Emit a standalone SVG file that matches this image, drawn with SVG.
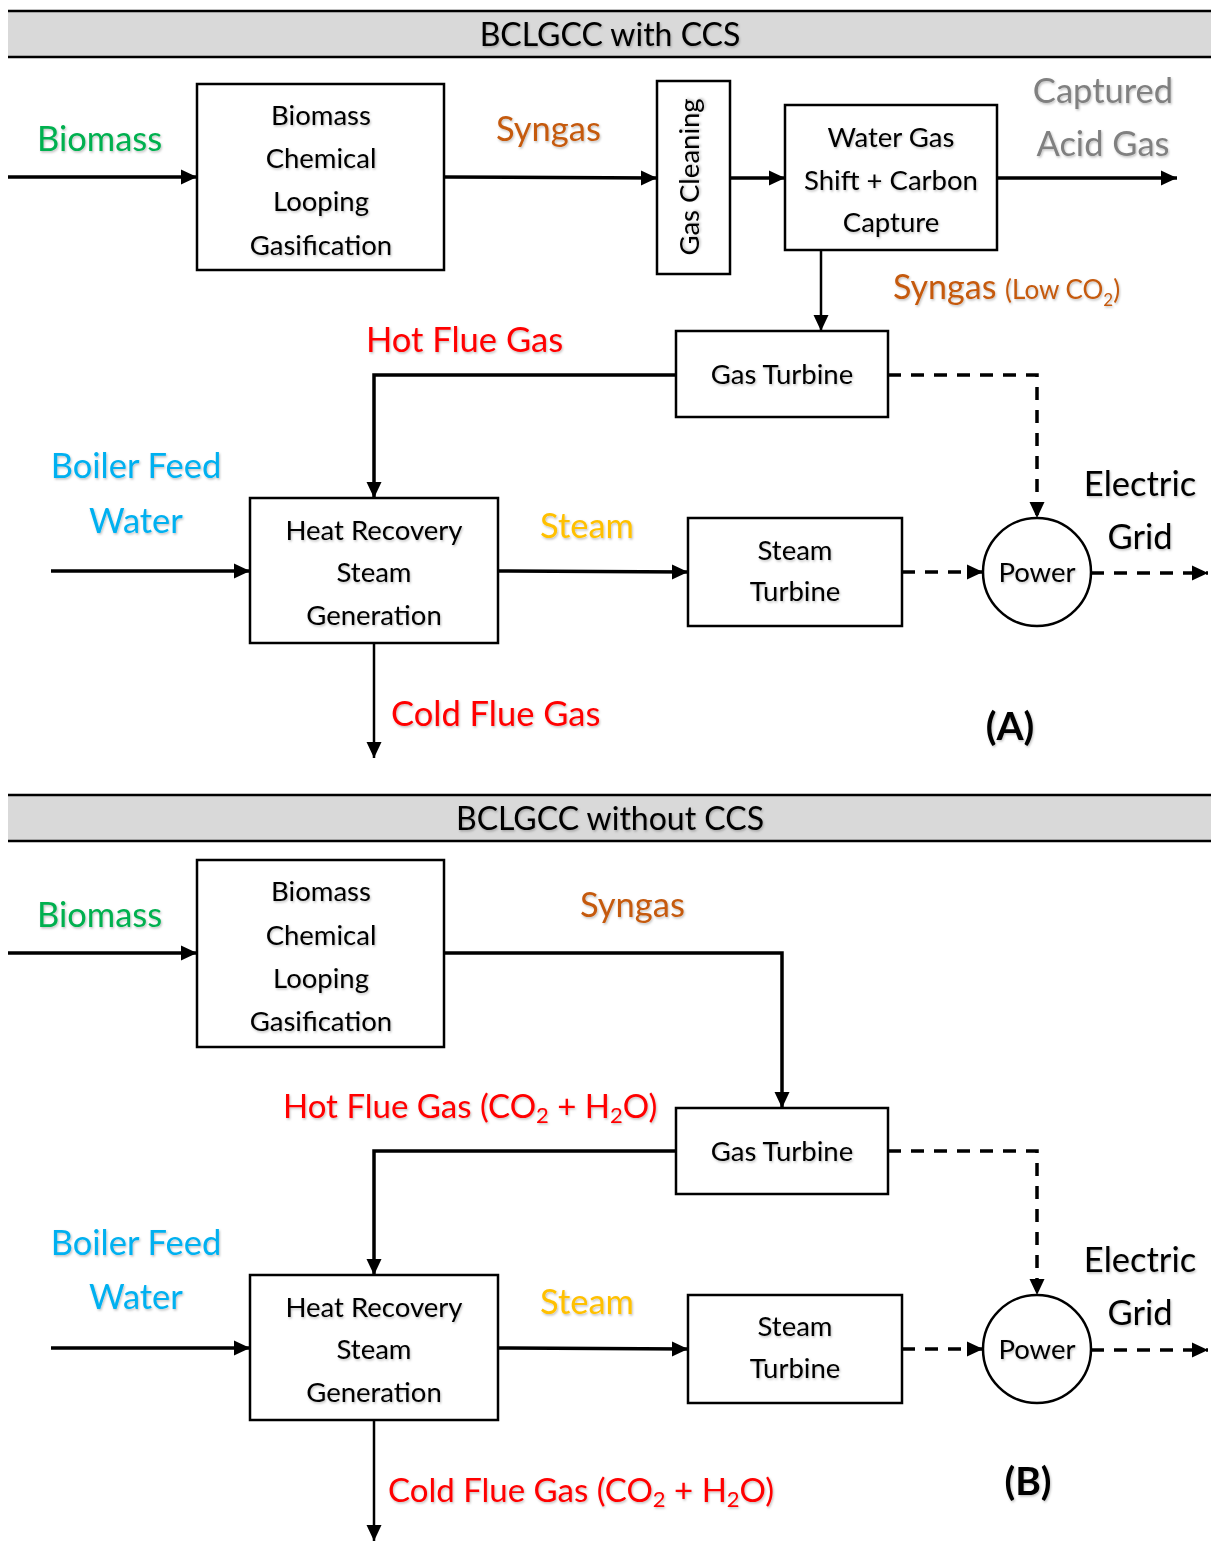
<svg xmlns="http://www.w3.org/2000/svg" width="1211" height="1555" viewBox="0 0 1211 1555">
<style>
text{font-family:Lato,"Open Sans","Liberation Sans",sans-serif;filter:url(#sh)}
.box{fill:#fff;stroke:#000;stroke-width:2.5}
.bt{font-size:27.5px;fill:#000;text-anchor:middle}
.lbl{font-size:34.5px}
.title{font-size:32px;fill:#000;text-anchor:middle}
.flow{fill:none;stroke:#000;stroke-width:3.5}
.thin{fill:none;stroke:#000;stroke-width:2.5}
.dash{fill:none;stroke:#000;stroke-width:3.5;stroke-dasharray:13 10}
.band{fill:#d9d9d9}
.bar{stroke:#000;stroke-width:2.5}
.green{fill:#00b050}.orange{fill:#c55a11}.grey{fill:#808080}.red{fill:#ff0000}.blue{fill:#00b0f0}.gold{fill:#ffc000}.black{fill:#000}
</style>
<defs>
<marker id="ah" markerUnits="userSpaceOnUse" markerWidth="18" markerHeight="18" viewBox="0 0 18 18" refX="16" refY="9" orient="auto">
<path d="M0,1.5 L16,9 L0,16.5 z" fill="#000"/>
</marker>
<filter id="sh" x="-5%" y="-20%" width="110%" height="140%">
<feDropShadow dx="1" dy="1.5" stdDeviation="1" flood-color="#000" flood-opacity="0.25"/>
</filter>
</defs>

<!-- ===== Panel A ===== -->
<g id="headerA">
<rect class="band" x="8" y="10" width="1203" height="47"/>
<line class="bar" x1="8" y1="11" x2="1211" y2="11"/>
<line class="bar" x1="8" y1="57" x2="1211" y2="57"/>
<text class="title" x="610" y="46">BCLGCC with CCS</text>
</g>

<g id="connectorsA">
<line class="flow" x1="8" y1="177" x2="197" y2="177" marker-end="url(#ah)"/>
<line class="flow" x1="444" y1="177" x2="657" y2="178" marker-end="url(#ah)"/>
<line class="flow" x1="730" y1="178" x2="785" y2="178" marker-end="url(#ah)"/>
<line class="flow" x1="997" y1="178" x2="1177" y2="178" marker-end="url(#ah)"/>
<line class="thin" x1="821" y1="250" x2="821" y2="331" marker-end="url(#ah)"/>
<polyline class="flow" points="676,375 374,375 374,498" marker-end="url(#ah)"/>
<polyline class="dash" points="888,375 1037,375 1037,518" marker-end="url(#ah)"/>
<line class="flow" x1="51" y1="571" x2="250" y2="571" marker-end="url(#ah)"/>
<line class="flow" x1="498" y1="571" x2="688" y2="572" marker-end="url(#ah)"/>
<line class="dash" x1="902" y1="572" x2="983" y2="572" marker-end="url(#ah)"/>
<line class="dash" x1="1091" y1="573" x2="1208" y2="573" marker-end="url(#ah)"/>
<line class="thin" x1="374" y1="643" x2="374" y2="758" marker-end="url(#ah)"/>
</g>

<g id="labelsA">
<text class="lbl green" x="37" y="151">Biomass</text>
<text class="lbl orange" x="496" y="141">Syngas</text>
<text class="lbl grey" x="1103" y="103" text-anchor="middle">Captured</text>
<text class="lbl grey" x="1103" y="156" text-anchor="middle">Acid Gas</text>
<text class="orange" x="893" y="299"><tspan font-size="34">Syngas </tspan><tspan font-size="26">(Low CO</tspan><tspan font-size="17" dy="7">2</tspan><tspan font-size="26" dy="-7">)</tspan></text>
<text class="lbl red" x="366" y="352">Hot Flue Gas</text>
<text class="lbl blue" x="136" y="478" text-anchor="middle">Boiler Feed</text>
<text class="lbl blue" x="136" y="533" text-anchor="middle">Water</text>
<text class="lbl gold" x="540" y="538">Steam</text>
<text class="lbl black" x="1140" y="496" text-anchor="middle">Electric</text>
<text class="lbl black" x="1140" y="549" text-anchor="middle">Grid</text>
<text class="lbl red" x="391" y="726">Cold Flue Gas</text>
<text class="black" x="1010" y="740" font-size="39" font-weight="bold" text-anchor="middle">(A)</text>
</g>

<g id="bclgA">
<rect class="box" x="197" y="84" width="247" height="186"/>
<text class="bt" x="321" y="125">Biomass</text>
<text class="bt" x="321" y="168">Chemical</text>
<text class="bt" x="321" y="211">Looping</text>
<text class="bt" x="321" y="255">Gasification</text>
</g>
<g id="gasCleaningA">
<rect class="box" x="657" y="81" width="73" height="193"/>
<text class="bt" font-size="26.5" transform="translate(699,177) rotate(-90)" x="0" y="0">Gas Cleaning</text>
</g>
<g id="wgsA">
<rect class="box" x="785" y="105" width="212" height="145"/>
<text class="bt" x="891" y="147">Water Gas</text>
<text class="bt" x="891" y="190">Shift + Carbon</text>
<text class="bt" x="891" y="232">Capture</text>
</g>
<g id="gasTurbineA">
<rect class="box" x="676" y="331" width="212" height="86"/>
<text class="bt" x="782" y="384">Gas Turbine</text>
</g>
<g id="hrsgA">
<rect class="box" x="250" y="498" width="248" height="145"/>
<text class="bt" x="374" y="540">Heat Recovery</text>
<text class="bt" x="374" y="582">Steam</text>
<text class="bt" x="374" y="625">Generation</text>
</g>
<g id="steamTurbineA">
<rect class="box" x="688" y="518" width="214" height="108"/>
<text class="bt" x="795" y="560">Steam</text>
<text class="bt" x="795" y="601">Turbine</text>
</g>
<g id="powerA">
<circle class="box" cx="1037" cy="572" r="54"/>
<text class="bt" x="1037" y="582" font-size="31">Power</text>
</g>

<!-- ===== Panel B ===== -->
<g id="headerB">
<rect class="band" x="8" y="794" width="1203" height="47"/>
<line class="bar" x1="8" y1="795" x2="1211" y2="795"/>
<line class="bar" x1="8" y1="841" x2="1211" y2="841"/>
<text class="title" x="610" y="830">BCLGCC without CCS</text>
</g>

<g id="connectorsB">
<line class="flow" x1="8" y1="953" x2="197" y2="953" marker-end="url(#ah)"/>
<polyline class="flow" points="444,953 782,953 782,1108" marker-end="url(#ah)"/>
<polyline class="flow" points="676,1151 374,1151 374,1275" marker-end="url(#ah)"/>
<polyline class="dash" points="888,1151 1037,1151 1037,1295" marker-end="url(#ah)"/>
<line class="flow" x1="51" y1="1348" x2="250" y2="1348" marker-end="url(#ah)"/>
<line class="flow" x1="498" y1="1348" x2="688" y2="1349" marker-end="url(#ah)"/>
<line class="dash" x1="902" y1="1349" x2="983" y2="1349" marker-end="url(#ah)"/>
<line class="dash" x1="1091" y1="1350" x2="1208" y2="1350" marker-end="url(#ah)"/>
<line class="thin" x1="374" y1="1420" x2="374" y2="1541" marker-end="url(#ah)"/>
</g>

<g id="labelsB">
<text class="lbl green" x="37" y="927">Biomass</text>
<text class="lbl orange" x="580" y="917">Syngas</text>
<text class="red" x="283" y="1118" font-size="33">Hot Flue Gas (CO<tspan font-size="22" dy="5">2</tspan><tspan dy="-5"> + H</tspan><tspan font-size="22" dy="5">2</tspan><tspan dy="-5">O)</tspan></text>
<text class="lbl blue" x="136" y="1255" text-anchor="middle">Boiler Feed</text>
<text class="lbl blue" x="136" y="1309" text-anchor="middle">Water</text>
<text class="lbl gold" x="540" y="1314">Steam</text>
<text class="lbl black" x="1140" y="1272" text-anchor="middle">Electric</text>
<text class="lbl black" x="1140" y="1325" text-anchor="middle">Grid</text>
<text class="red" x="388" y="1502" font-size="33">Cold Flue Gas (CO<tspan font-size="22" dy="5">2</tspan><tspan dy="-5"> + H</tspan><tspan font-size="22" dy="5">2</tspan><tspan dy="-5">O)</tspan></text>
<text class="black" x="1028" y="1495" font-size="39" font-weight="bold" text-anchor="middle">(B)</text>
</g>

<g id="bclgB">
<rect class="box" x="197" y="860" width="247" height="187"/>
<text class="bt" x="321" y="901">Biomass</text>
<text class="bt" x="321" y="945">Chemical</text>
<text class="bt" x="321" y="988">Looping</text>
<text class="bt" x="321" y="1031">Gasification</text>
</g>
<g id="gasTurbineB">
<rect class="box" x="676" y="1108" width="212" height="86"/>
<text class="bt" x="782" y="1161">Gas Turbine</text>
</g>
<g id="hrsgB">
<rect class="box" x="250" y="1275" width="248" height="145"/>
<text class="bt" x="374" y="1317">Heat Recovery</text>
<text class="bt" x="374" y="1359">Steam</text>
<text class="bt" x="374" y="1402">Generation</text>
</g>
<g id="steamTurbineB">
<rect class="box" x="688" y="1295" width="214" height="108"/>
<text class="bt" x="795" y="1336">Steam</text>
<text class="bt" x="795" y="1378">Turbine</text>
</g>
<g id="powerB">
<circle class="box" cx="1037" cy="1349" r="54"/>
<text class="bt" x="1037" y="1359" font-size="31">Power</text>
</g>
</svg>
